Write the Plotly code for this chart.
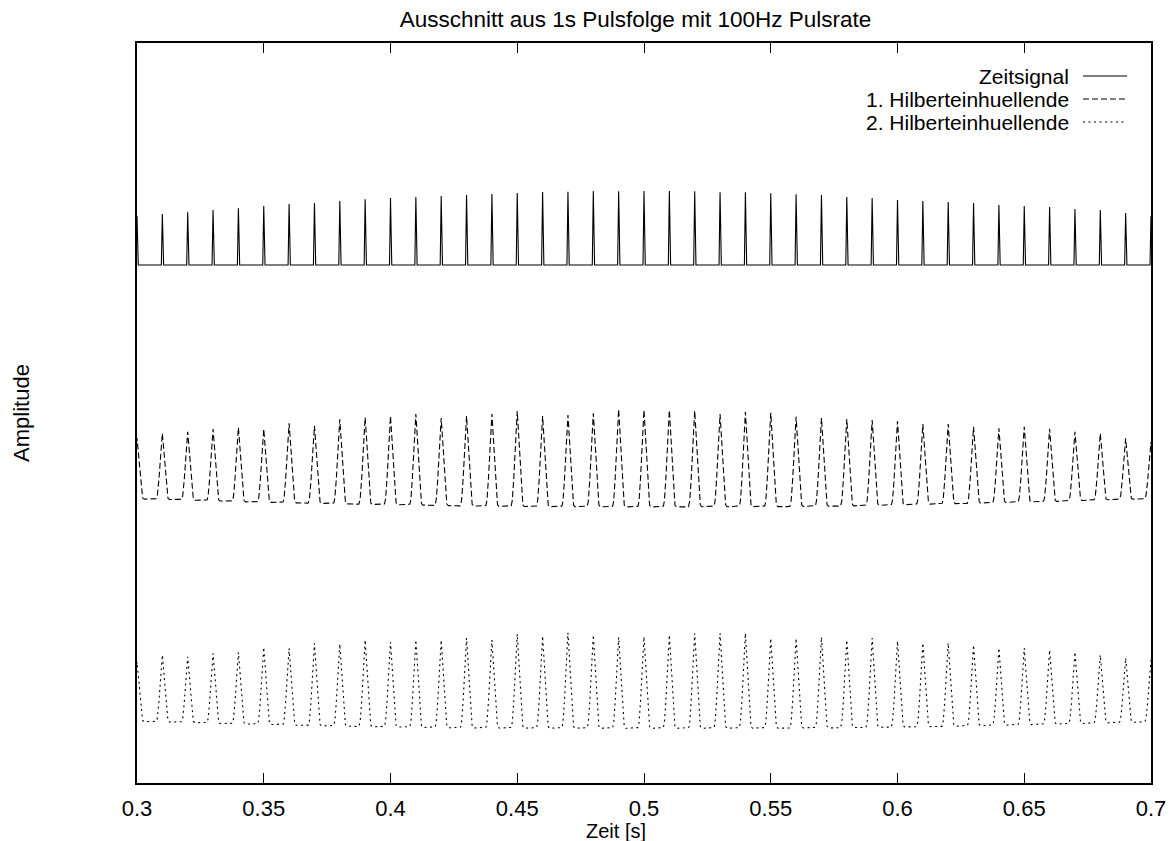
import numpy as np
import plotly.graph_objects as go

# ---------------- data ----------------
pulse_times = [round(0.30 + 0.01 * i, 2) for i in range(41)]

signal_baseline = 518.0
signal_peaks = [567, 569, 570.7, 573, 574.7, 577, 579, 580, 582, 583.7,
                585, 586, 587, 588, 589, 590, 591, 591.3, 592, 591.7,
                592, 592, 591.7, 590.7, 590.7, 589.7, 588.7, 588, 586, 585,
                583, 582, 581, 580, 578, 577, 576, 574, 573, 570, 567]

env1_peaks = [345, 349.7, 351.3, 354, 355.7, 354, 359.7, 357.3, 363.7, 365.7,
              367, 369, 365, 367, 369, 372, 367, 368, 369.7, 373.7,
              373, 373, 372.3, 369, 371, 370.3, 366.3, 365, 364, 363,
              362, 359, 359, 356.3, 354.7, 356.3, 354.3, 351.3, 349.7, 344.7, 341]
env1_troughs = [284, 283.7, 283, 282.3, 281.3, 280.7, 280.3, 279.7, 279.3, 278.7,
                278.3, 278, 277.5, 277, 276.7, 276.5, 276.3, 276.3, 276.2, 276,
                276, 276, 276.2, 276.3, 276.3, 276.3, 276.5, 276.7, 277, 277.5,
                278, 278.7, 279.3, 279.7, 280.3, 281, 281.3, 282.3, 283, 283.7, 284]

env2_peaks = [121, 128, 126.3, 129.7, 130.7, 135.7, 134.7, 139.7, 139, 143,
              141, 143, 143, 145, 143, 149, 147, 150.3, 148, 145.7,
              146.3, 148, 149.7, 149.7, 149.7, 144.7, 144.7, 146, 143, 145,
              142, 140, 140, 138, 135, 135, 133, 131, 128, 125, 123]
env2_troughs = [61.5, 61, 60.7, 59.7, 59, 58.7, 58, 57, 57, 56.3,
                56, 55.7, 55.3, 55, 55, 54.8, 54.7, 54.7, 54.7, 54.7,
                54.7, 54.7, 54.7, 54.7, 54.7, 54.8, 55, 55, 55.3, 55.7,
                56, 56.3, 56.7, 57, 57.7, 58.3, 58.7, 59.3, 60, 60.5, 61]

# normalized pulse shape of the envelopes (offset in ms -> relative height)
env_shape_ms = [-2.5, -2.1, -1.7, -1.3, -0.9, -0.45, 0.0, 0.45, 0.9, 1.3, 1.7, 2.1, 2.5]
env_shape_val = [0.0, 0.03, 0.14, 0.33, 0.56, 0.8, 1.0, 0.8, 0.56, 0.33, 0.14, 0.03, 0.0]
spike_ms = [-0.4, 0.0, 0.5]

x_ticks = [0.3, 0.35, 0.4, 0.45, 0.5, 0.55, 0.6, 0.65, 0.7]
x_tick_text = ["0.3", "0.35", "0.4", "0.45", "0.5", "0.55", "0.6", "0.65", "0.7"]

legend_names = ["Zeitsignal", "1. Hilberteinhuellende", "2. Hilberteinhuellende"]
title_text = "Ausschnitt aus 1s Pulsfolge mit 100Hz Pulsrate"
x_title = "Zeit [s]"
y_title = "Amplitude"

# ---------------- build curves ----------------
pt = np.array(pulse_times)

sx, sy = [], []
for t, p in zip(pulse_times, signal_peaks):
    sx += [t + spike_ms[0] / 1000, t, t + spike_ms[2] / 1000]
    sy += [signal_baseline, p, signal_baseline]

tt = np.arange(0.2990, 0.7011, 0.0001)
idx = np.clip(np.rint((tt - 0.30) / 0.01).astype(int), 0, len(pulse_times) - 1)
dt_ms = (tt - pt[idx]) * 1000
shape = np.interp(dt_ms, env_shape_ms, env_shape_val, left=0, right=0)


def envelope(peaks, troughs):
    pk = np.array(peaks)[idx]
    base = np.interp(tt, pt, np.array(troughs))
    return base + (pk - base) * shape


e1 = envelope(env1_peaks, env1_troughs)
e2 = envelope(env2_peaks, env2_troughs)

FONT = "Liberation Sans, Arial, sans-serif"
DASH1 = "6px,3px"
DASH2 = "2px,3.5px"

# the page body has an 8px margin; figure is sized to fit the 1175x841 window
W, H = 1167, 833

fig = go.Figure()
fig.add_trace(go.Scatter(x=sx, y=sy, mode="lines", name=legend_names[0],
                         line=dict(color="black", width=1.1), showlegend=False))
fig.add_trace(go.Scatter(x=tt, y=e1, mode="lines", name=legend_names[1],
                         line=dict(color="black", width=1.1, dash=DASH1), showlegend=False))
fig.add_trace(go.Scatter(x=tt, y=e2, mode="lines", name=legend_names[2],
                         line=dict(color="black", width=1.1, dash=DASH2), showlegend=False))

leg_y = [0.9554, 0.9243, 0.8932]
dashes = ["solid", DASH1, DASH2]
for name, yv, d in zip(legend_names, leg_y, dashes):
    fig.add_annotation(x=0.9201, y=yv, xref="paper", yref="paper", text=name,
                       showarrow=False, xanchor="right", yanchor="middle",
                       borderpad=0,
                       font=dict(family=FONT, size=21, color="black"))
    fig.add_shape(type="line", xref="paper", yref="paper", x0=0.9329, x1=0.9763,
                  y0=yv, y1=yv, line=dict(color="black", width=1.1, dash=d))

# x-axis title as an annotation just below the tick labels
fig.add_annotation(x=0.4724, y=-0.0645, xref="paper", yref="paper", text=x_title,
                   showarrow=False, xanchor="center", yanchor="middle",
                   borderpad=0, font=dict(family=FONT, size=20, color="black"))

fig.update_layout(
    width=W, height=H,
    margin=dict(l=129, r=24, t=35, b=58),
    paper_bgcolor="white", plot_bgcolor="white",
    font=dict(family=FONT, size=22, color="black"),
    title=dict(text=title_text, x=0.4916, xref="paper", xanchor="center",
               y=1 - 11 / H, yref="container", yanchor="middle",
               font=dict(family=FONT, size=22.5, color="black")),
    xaxis=dict(range=[0.3, 0.7], tickvals=x_ticks, ticktext=x_tick_text,
               automargin=False,
               ticks="inside", ticklen=10, tickwidth=1, tickcolor="black",
               showline=True, linecolor="black", linewidth=1.5, mirror="ticks",
               showgrid=False, zeroline=False, ticklabelstandoff=5,
               tickfont=dict(family=FONT, size=22, color="black")),
    yaxis=dict(range=[0, 740], showticklabels=False, ticks="",
               automargin=False,
               showline=True, linecolor="black", linewidth=1.5, mirror=True,
               showgrid=False, zeroline=False,
               title=dict(text=y_title, standoff=100,
                          font=dict(family=FONT, size=22, color="black"))),
)

fig.write_html("out.html")
